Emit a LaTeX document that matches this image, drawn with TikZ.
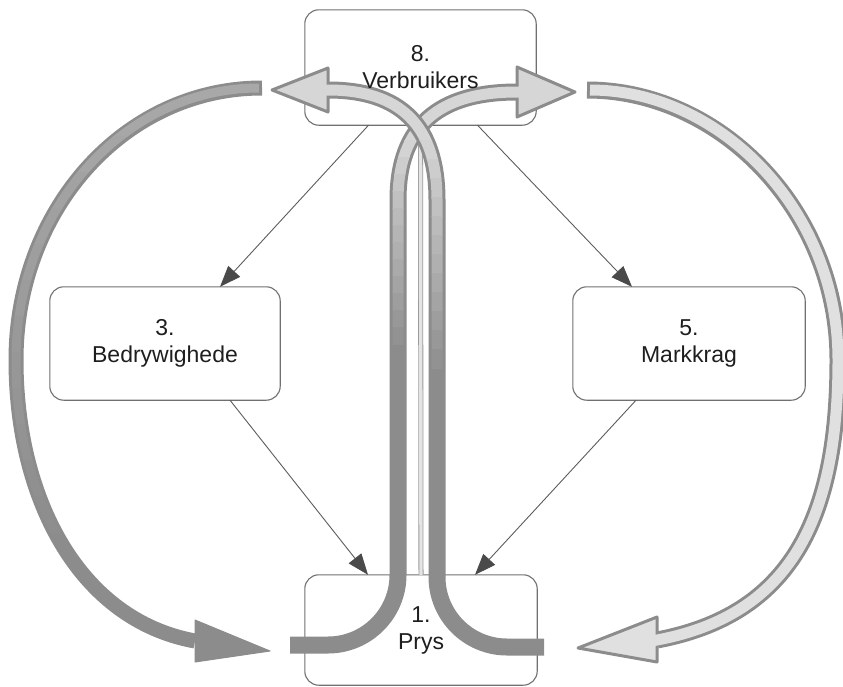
\documentclass[tikz,border=0pt]{standalone}
\usepackage{fontspec}
\setmainfont{Liberation Sans}
\usetikzlibrary{arrows.meta}

\pgfdeclarelayer{boxes}
\pgfdeclarelayer{flows}
\pgfsetlayers{boxes,flows,main}

\definecolor{ink}{HTML}{1E1E1E}
\definecolor{frameline}{HTML}{707070}
\definecolor{linkline}{HTML}{5C5C5C}
\definecolor{linkhead}{HTML}{4A4A4A}
\definecolor{flowedge}{HTML}{8C8C8C}
\definecolor{flowlight}{HTML}{D6D6D6}
\definecolor{arcmid}{HTML}{A8A8A8}
\definecolor{arclight}{HTML}{E0E0E0}
\definecolor{spinecore}{HTML}{E4E4E4}
\definecolor{spineedge}{HTML}{9A9A9A}

% centre lines of the broad flow arrows
\newcommand\routeA{(290,645) -- (328,645) .. controls (366.6,645) and (398,613.6) .. (398,575) -- (398,200) .. controls (398,125) and (440,92) .. (517,92)}
\newcommand\routeB{(544,647) -- (507,647) .. controls (468.4,647) and (437,615.6) .. (437,577) -- (437,200) .. controls (437,125) and (400,90) .. (328,90)}
\newcommand\routeL{(262,88) .. controls (124,88) and (16,210) .. (16,360) .. controls (16,500) and (80,620) .. (195,641)}
\newcommand\routeR{(587,90) .. controls (720,90) and (838,210) .. (838,360) .. controls (838,520) and (790,615) .. (657,640)}

% inner core of a flow arrow, light above #3 and fading into the edge colour below it
% #1 draw options, #2 path, #3 y where the fade starts, #4 band height, #5 light colour
\newcommand\fadecore[5]{%
  \begin{scope}\clip (-10,-10) rectangle (900,#3);\draw[#1, draw=#5] #2;\end{scope}%
  \foreach \k in {0,...,11}{%
    \pgfmathsetmacro\ya{#3+\k*#4}%
    \pgfmathsetmacro\yb{\ya+#4+0.6}%
    \pgfmathtruncatemacro\pc{96-\k*8}%
    \begin{scope}\clip (-10,\ya) rectangle (900,\yb);\draw[#1, draw=#5!\pc!flowedge] #2;\end{scope}%
  }%
}

\begin{document}
\begin{tikzpicture}[x=1pt, y=-1pt,
  stage/.style={inner sep=0pt, align=center, text=ink, font=\fontsize{23}{27}\selectfont},
  stageframe/.style={draw=frameline, line width=1.1pt, rounded corners=14pt},
  link/.style={draw=linkline, line width=0.9pt, -{Triangle[length=21pt, width=16pt, color=linkhead]}},
  spine/.style={draw=spineedge, line width=0.8pt, double=spinecore, double distance=3.4pt},
  tubeedge/.style={draw=flowedge, line width=17pt},
  headstyle/.style={fill=flowlight, draw=flowedge, line width=3pt, line join=round}]
\useasboundingbox (0,0) rectangle (843,686);

% stages
\node[stage, minimum width=231pt, minimum height=115pt] (v) at (420.5,67.5) {8.\\Verbruikers};
\node[stage, minimum width=230pt, minimum height=113pt] (b) at (165,343.5) {3.\\Bedrywighede};
\node[stage, minimum width=232pt, minimum height=113pt] (m) at (689,343.5) {5.\\Markkrag};
\node[stage, minimum width=232pt, minimum height=110pt] (p) at (421,630) {1.\\Prys};

\begin{pgfonlayer}{boxes}
  \foreach \n in {v,b,m,p}
    \draw[stageframe] (\n.south west) rectangle (\n.north east);
\end{pgfonlayer}

\begin{pgfonlayer}{flows}
  % thin links between the stages
  \draw[link] ([xshift=-52pt]v.south) -- ([xshift=55pt]b.north);
  \draw[link] ([xshift=57pt]v.south) -- ([xshift=-57pt]m.north);
  \draw[link] ([xshift=65pt]b.south) -- ([xshift=-53pt]p.north);
  \draw[link] ([xshift=-53pt]m.south) -- ([xshift=54pt]p.north);
  \draw[spine] (v.south) -- (p.north);

  % outer loop on the left
  \draw[draw=flowedge, line width=15pt] \routeL;
  \draw[fill=flowedge, draw=flowedge, line width=1pt, line join=round]
    (195,620) -- (270,651) -- (195,662) -- cycle;
  \fadecore{line width=9pt, shorten <=3pt}{\routeL}{100}{36}{arcmid}

  % outer loop on the right
  \draw[draw=flowedge, line width=17pt] \routeR;
  \draw[headstyle, fill=arclight] (657,617) -- (578,648) -- (657,662) -- cycle;
  \draw[line width=11pt, draw=arclight, shorten <=3pt] \routeR -- (652,641);

  % crossing flow from the left of the price box to the right
  \draw[tubeedge] \routeA;
  \draw[headstyle] (517,67) -- (575,92) -- (517,117) -- cycle;
  \fadecore{line width=11pt}{\routeA -- (522,92)}{140}{17}{flowlight}

  % crossing flow from the right of the price box to the left
  \draw[tubeedge] \routeB;
  \draw[headstyle] (328,68) -- (272,90) -- (328,112) -- cycle;
  \fadecore{line width=11pt}{\routeB -- (323,90)}{140}{19}{flowlight}
\end{pgfonlayer}
\end{tikzpicture}
\end{document}
